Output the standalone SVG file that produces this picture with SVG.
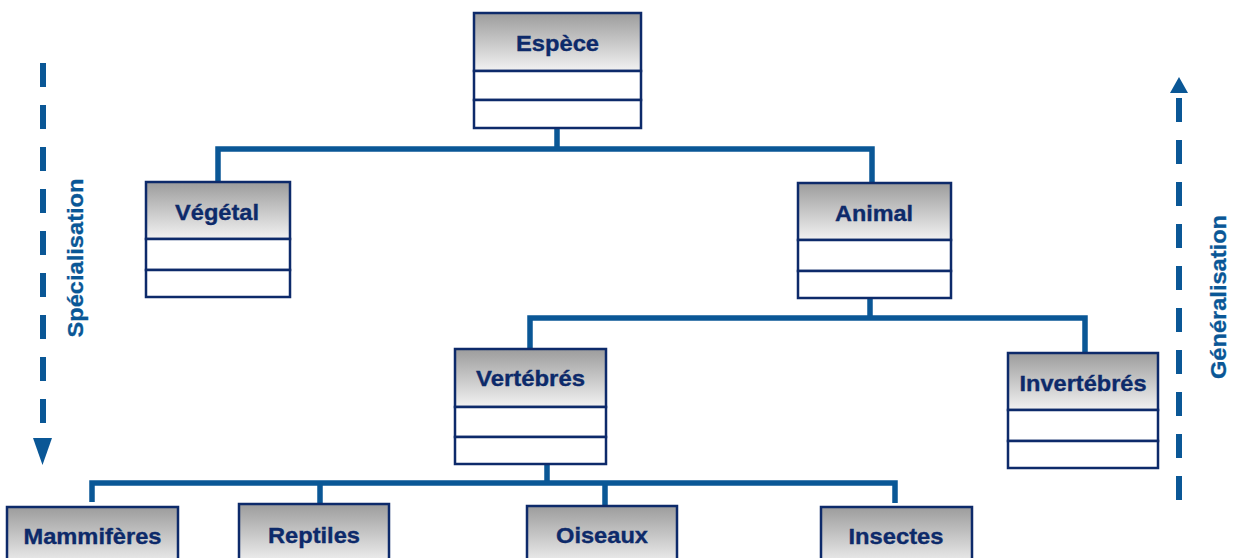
<svg xmlns="http://www.w3.org/2000/svg" width="1239" height="558" viewBox="0 0 1239 558">
  <defs>
    <linearGradient id="hdr" x1="0" y1="0" x2="0" y2="1">
      <stop offset="0" stop-color="#9c9c9c"/>
      <stop offset="1" stop-color="#f2f2f2"/>
    </linearGradient>
    <style>
      .hd { fill: url(#hdr); stroke: #0d2a6a; stroke-width: 2.5; }
      .rw { fill: #ffffff; stroke: #0d2a6a; stroke-width: 2.5; }
      .nm { font-family: "Liberation Sans", Arial, sans-serif; font-weight: bold; font-size: 22px; fill: #0d2a6a; stroke: #0d2a6a; stroke-width: 0.35; text-anchor: middle; }
      .ln { fill: none; stroke: #0a5796; stroke-width: 5.5; stroke-linecap: butt; stroke-linejoin: miter; }
      .dash { fill: none; stroke: #0a5796; stroke-width: 6; stroke-dasharray: 24 18; }
      .side { font-family: "Liberation Sans", Arial, sans-serif; font-weight: bold; font-size: 22px; fill: #0a5796; stroke: #0a5796; stroke-width: 0.3; text-anchor: middle; }
    </style>
  </defs>

  <!-- inheritance connectors -->
  <g id="connectors">
    <path class="ln" d="M557,128 V149 M218,182 V149 H872 V183"/>
    <path class="ln" d="M870,298 V318 M530,349 V318 H1085 V353"/>
    <path class="ln" d="M547,464 V483 M92,502 V483 H895 V503 M320,483 V505 M605,483 V505"/>
  </g>

  <g id="espece">
    <rect class="hd" x="474" y="13" width="167" height="58"/>
    <rect class="rw" x="474" y="71" width="167" height="29"/>
    <rect class="rw" x="474" y="100" width="167" height="28"/>
    <text class="nm" x="557.5" y="51" textLength="83" lengthAdjust="spacingAndGlyphs">Espèce</text>
  </g>

  <g id="vegetal">
    <rect class="hd" x="146" y="182" width="144" height="57"/>
    <rect class="rw" x="146" y="239" width="144" height="31"/>
    <rect class="rw" x="146" y="270" width="144" height="27"/>
    <text class="nm" x="217" y="220" textLength="84" lengthAdjust="spacingAndGlyphs">Végétal</text>
  </g>

  <g id="animal">
    <rect class="hd" x="798" y="183" width="153" height="57"/>
    <rect class="rw" x="798" y="240" width="153" height="31"/>
    <rect class="rw" x="798" y="271" width="153" height="27"/>
    <text class="nm" x="874" y="221" textLength="78" lengthAdjust="spacingAndGlyphs">Animal</text>
  </g>

  <g id="vertebres">
    <rect class="hd" x="455" y="349" width="151" height="58"/>
    <rect class="rw" x="455" y="407" width="151" height="30"/>
    <rect class="rw" x="455" y="437" width="151" height="27"/>
    <text class="nm" x="530.5" y="386" textLength="109" lengthAdjust="spacingAndGlyphs">Vertébrés</text>
  </g>

  <g id="invertebres">
    <rect class="hd" x="1008" y="353" width="150" height="57"/>
    <rect class="rw" x="1008" y="410" width="150" height="31"/>
    <rect class="rw" x="1008" y="441" width="150" height="27"/>
    <text class="nm" x="1083" y="391" textLength="127" lengthAdjust="spacingAndGlyphs">Invertébrés</text>
  </g>

  <g id="mammiferes">
    <rect class="hd" x="7" y="507" width="171" height="60"/>
    <text class="nm" x="92.5" y="544" textLength="138" lengthAdjust="spacingAndGlyphs">Mammifères</text>
  </g>

  <g id="reptiles">
    <rect class="hd" x="239" y="504" width="150" height="60"/>
    <text class="nm" x="314" y="543" textLength="92" lengthAdjust="spacingAndGlyphs">Reptiles</text>
  </g>

  <g id="oiseaux">
    <rect class="hd" x="527" y="506" width="150" height="60"/>
    <text class="nm" x="602" y="543" textLength="92" lengthAdjust="spacingAndGlyphs">Oiseaux</text>
  </g>

  <g id="insectes">
    <rect class="hd" x="821" y="507" width="151" height="60"/>
    <text class="nm" x="896" y="544" textLength="95" lengthAdjust="spacingAndGlyphs">Insectes</text>
  </g>

  <!-- direction arrows -->
  <g id="specialisation">
    <line class="dash" x1="43" y1="63" x2="43" y2="430"/>
    <polygon points="33,438 52,438 42.5,465" fill="#0a5796"/>
    <text class="side" transform="translate(83,258) rotate(-90)" textLength="159" lengthAdjust="spacingAndGlyphs">Spécialisation</text>
  </g>

  <g id="generalisation">
    <polygon points="1170,93 1188,93 1179,77" fill="#0a5796"/>
    <line class="dash" x1="1179" y1="98" x2="1179" y2="500"/>
    <text class="side" transform="translate(1226,297) rotate(-90)" textLength="164" lengthAdjust="spacingAndGlyphs">Généralisation</text>
  </g>
</svg>
